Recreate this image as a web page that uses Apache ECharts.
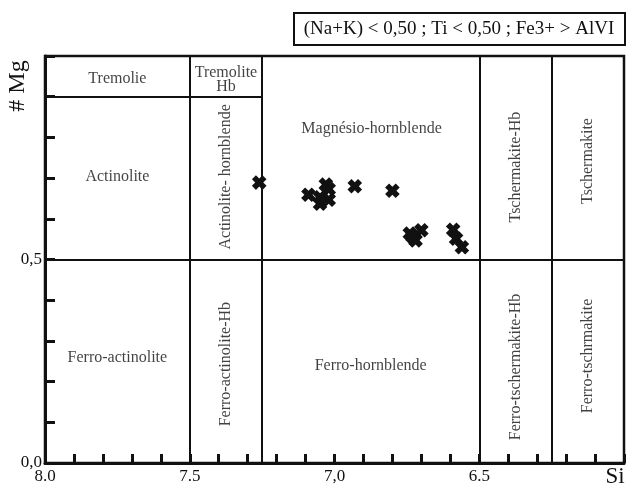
<!DOCTYPE html>
<html>
<head>
<meta charset="utf-8">
<script src="https://cdn.jsdelivr.net/npm/echarts@6/dist/echarts.min.js"></script>
<style>
  html, body { margin: 0; padding: 0; background: #fff; }
  #chart { width: 627px; height: 486px; }
</style>
</head>
<body>
<div id="chart"></div>
<script>
// Amphibole analyses: Si (apfu) and Mg/(Mg+Fe2+)
const siValues = [7.26, 7.09, 7.03, 7.02, 7.05, 7.02, 7.05, 6.93, 6.80, 6.74, 6.70, 6.72, 6.73, 6.59, 6.58, 6.56];
const mgValues = [0.689, 0.659, 0.684, 0.673, 0.637, 0.647, 0.653, 0.680, 0.669, 0.564, 0.572, 0.547, 0.556, 0.573, 0.551, 0.530];

// Classification field boundaries
const siDividers = [7.5, 7.25, 6.5, 6.25];
const mgDivider = 0.5;
const tremoliteMg = 0.9;
const tremoliteSiLimit = 7.25;

// Tick labels as printed
const xTickLabels = { '8.0': '8.0', '7.5': '7.5', '7.0': '7,0', '6.5': '6.5' };
const yTickLabels = { '0.0': '0,0', '0.5': '0,5' };

// Field names and their anchor points (Si, Mg)
const fieldNames = ['Tremolie', 'Tremolite\nHb', 'Actinolite', 'Actinolite- hornblende', 'Magnésio-hornblende',
  'Tschermakite-Hb', 'Tschermakite', 'Ferro-actinolite', 'Ferro-actinolite-Hb', 'Ferro-hornblende',
  'Ferro-tschermakite-Hb', 'Ferro-tschrmakite'];
const fieldSi = [7.75, 7.375, 7.75, 7.375, 6.872, 6.375, 6.125, 7.75, 7.375, 6.875, 6.375, 6.125];
const fieldMg = [0.944, 0.941, 0.703, 0.703, 0.822, 0.727, 0.742, 0.258, 0.243, 0.238, 0.236, 0.263];
const fieldVertical = [false, false, false, true, false, true, true, false, true, false, true, true];

const serif = '"Liberation Serif", "Times New Roman", serif';
const ink = '#111';

const chart = echarts.init(document.getElementById('chart'), null, { renderer: 'canvas' });

const dividerLines = siDividers.map(s => [{ coord: [s, 0] }, { coord: [s, 1] }]);
dividerLines.push([{ coord: [8, mgDivider] }, { coord: [6, mgDivider] }]);
dividerLines.push([{ coord: [8, tremoliteMg] }, { coord: [tremoliteSiLimit, tremoliteMg] }]);

const fieldData = fieldNames.map((n, i) => ({
  value: [fieldSi[i], fieldMg[i]],
  name: n,
  label: { rotate: fieldVertical[i] ? 90 : 0 }
}));

chart.setOption({
  animation: false,
  backgroundColor: '#fff',
  grid: { left: 45, right: 2, top: 56, bottom: 23, show: true, borderColor: ink, borderWidth: 2.5 },
  xAxis: {
    type: 'value', min: 6, max: 8, interval: 0.1, inverse: true,
    axisLine: { lineStyle: { color: ink, width: 3 } },
    axisTick: { inside: true, length: 9, lineStyle: { color: ink, width: 3 } },
    axisLabel: {
      color: ink, fontFamily: serif, fontSize: 17, margin: 5,
      formatter: v => xTickLabels[v.toFixed(1)] || ''
    },
    splitLine: { show: false }
  },
  yAxis: {
    type: 'value', min: 0, max: 1, interval: 0.1,
    axisLine: { lineStyle: { color: ink, width: 3 } },
    axisTick: { inside: true, length: 10, lineStyle: { color: ink, width: 3 } },
    axisLabel: {
      color: ink, fontFamily: serif, fontSize: 17, margin: 3,
      formatter: v => yTickLabels[v.toFixed(1)] || ''
    },
    splitLine: { show: false }
  },
  series: [
    {
      type: 'scatter',
      data: fieldData,
      symbolSize: 0,
      silent: true,
      label: {
        show: true, position: 'inside', formatter: p => p.name,
        color: ink, fontFamily: serif, fontSize: 16, lineHeight: 14,
        align: 'center', verticalAlign: 'middle'
      },
      markLine: {
        silent: true, symbol: 'none', animation: false,
        label: { show: false },
        lineStyle: { color: ink, width: 2, type: 'solid' },
        data: dividerLines
      },
      z: 2
    },
    {
      type: 'scatter',
      data: siValues.map((s, i) => [s, mgValues[i]]),
      symbol: 'path://M3.1,0H6.9V3.1H10V6.9H6.9V10H3.1V6.9H0V3.1H3.1Z',
      symbolRotate: 45,
      symbolSize: 15,
      itemStyle: { color: '#111', opacity: 1 },
      z: 5
    }
  ],
  graphic: [
    {
      type: 'rect', left: 293, top: 12, z: 10,
      shape: { width: 331, height: 32 },
      style: { fill: '#fff', stroke: ink, lineWidth: 2 }
    },
    {
      type: 'text', x: 459, y: 29, z: 11,
      style: {
        text: '(Na+K) < 0,50 ; Ti < 0,50 ; Fe3+ > AlVI',
        fill: ink, fontFamily: serif, fontSize: 19, align: 'center', verticalAlign: 'middle'
      }
    },
    {
      type: 'text', x: 18, y: 86, rotation: Math.PI / 2, z: 11,
      style: {
        text: '# Mg', fill: ink, fontFamily: serif, fontSize: 24, align: 'center', verticalAlign: 'middle'
      }
    },
    {
      type: 'text', x: 615, y: 477, z: 11,
      style: {
        text: 'Si', fill: ink, fontFamily: serif, fontSize: 23, align: 'center', verticalAlign: 'middle'
      }
    }
  ]
});
</script>
</body>
</html>
